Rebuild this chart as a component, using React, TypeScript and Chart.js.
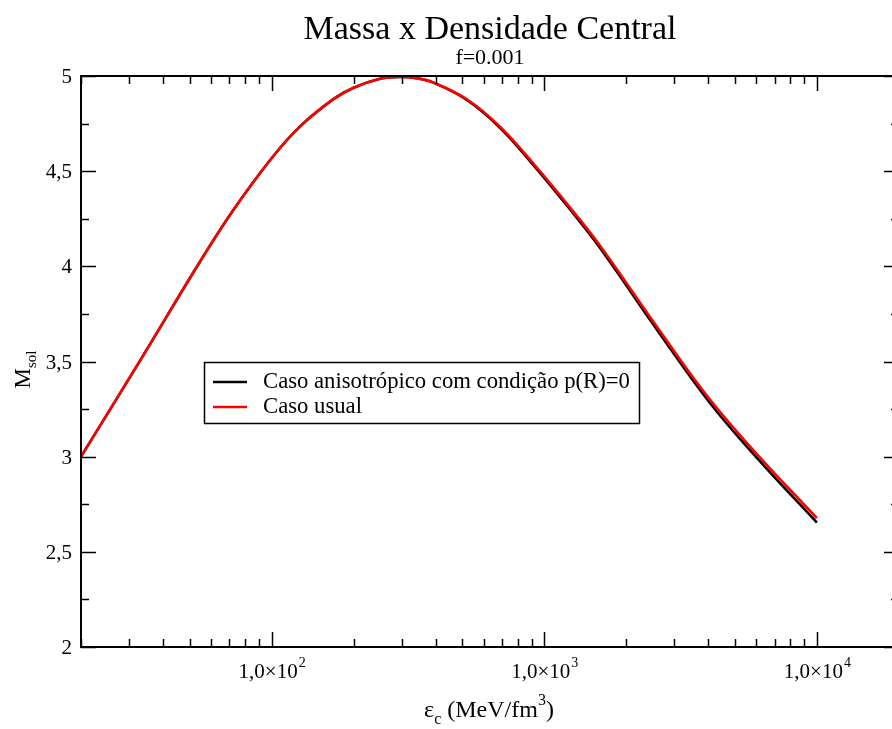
import React, { useEffect, useRef } from "react";
import { Chart, registerables } from "chart.js";

Chart.register(...registerables);

// Central energy density (MeV/fm^3)
const densities = [20, 32.6, 54.6, 72.4, 100, 127, 168, 199, 250, 296, 340, 392, 519, 688, 911, 1208, 1578, 2656, 4052, 6094, 10000];
// Mass (M_sol) — usual case (red)
const massUsual = [3.0, 3.494, 4.024, 4.296, 4.568, 4.734, 4.877, 4.937, 4.985, 4.995, 4.988, 4.966, 4.879, 4.734, 4.541, 4.331, 4.121, 3.66, 3.30, 3.006, 2.677];
// Mass (M_sol) — anisotropic case with p(R)=0 (black)
const massAniso = [3.0, 3.494, 4.024, 4.296, 4.568, 4.734, 4.877, 4.937, 4.985, 4.995, 4.988, 4.965, 4.875, 4.728, 4.533, 4.321, 4.109, 3.645, 3.282, 2.986, 2.654];

const seriesLabels = ["Caso anisotrópico com condição p(R)=0", "Caso usual"];
const seriesColors = ["#000000", "#ff0000"];

const titleText = "Massa x Densidade Central";
const subtitleText = "f=0.001";

const xMin = 20;
const xMax = 20000;
const yMin = 2;
const yMax = 5;

const xMajorTicks = [100, 1000, 10000];
const xTickLabels = ["1,0×10^2", "1,0×10^3", "1,0×10^4"];
const xMinorTicks = [20, 30, 40, 50, 60, 70, 80, 90, 200, 300, 400, 500, 600, 700, 800, 900, 2000, 3000, 4000, 5000, 6000, 7000, 8000, 9000];
const yMajorTicks = [2, 2.5, 3, 3.5, 4, 4.5, 5];
const yTickLabels = ["2", "2,5", "3", "3,5", "4", "4,5", "5"];
const yMinorTicks = [2.25, 2.75, 3.25, 3.75, 4.25, 4.75];

const FONT = '"Liberation Serif", "Times New Roman", serif';

const decorPlugin = {
  id: "decor",
  afterDraw(chart: any) {
    const { ctx, chartArea: a, scales } = chart;
    const xs = scales.x;
    const ys = scales.y;
    ctx.save();
    ctx.fillStyle = "#000";
    ctx.strokeStyle = "#000";

    // frame
    ctx.lineWidth = 2;
    ctx.strokeRect(a.left, a.top, a.right - a.left, a.bottom - a.top);

    // ticks (inward)
    ctx.lineWidth = 1.5;
    const major = 15;
    const minor = 8;
    ctx.beginPath();
    const xt = (v: number, len: number) => {
      const px = Math.round(xs.getPixelForValue(v)) + 0.5;
      ctx.moveTo(px, a.bottom);
      ctx.lineTo(px, a.bottom - len);
      ctx.moveTo(px, a.top);
      ctx.lineTo(px, a.top + len);
    };
    const yt = (v: number, len: number) => {
      const py = Math.round(ys.getPixelForValue(v)) + 0.5;
      ctx.moveTo(a.left, py);
      ctx.lineTo(a.left + len, py);
      ctx.moveTo(a.right, py);
      ctx.lineTo(a.right - len, py);
    };
    xMajorTicks.forEach((v) => xt(v, major));
    xMinorTicks.forEach((v) => xt(v, minor));
    yMajorTicks.forEach((v) => yt(v, major));
    yMinorTicks.forEach((v) => yt(v, minor));
    ctx.stroke();

    // x tick labels
    xMajorTicks.forEach((v, i) => {
      const [base, exp] = xTickLabels[i].split("^");
      ctx.font = `21px ${FONT}`;
      const wb = ctx.measureText(base).width;
      ctx.font = `14px ${FONT}`;
      const we = ctx.measureText(exp).width;
      const px = xs.getPixelForValue(v);
      const start = px - (wb + we) / 2;
      const baseY = a.bottom + 31;
      ctx.textAlign = "left";
      ctx.textBaseline = "alphabetic";
      ctx.font = `21px ${FONT}`;
      ctx.fillText(base, start, baseY);
      ctx.font = `14px ${FONT}`;
      ctx.fillText(exp, start + wb + 1, baseY - 11);
    });

    // y tick labels
    ctx.font = `21px ${FONT}`;
    ctx.textAlign = "right";
    ctx.textBaseline = "alphabetic";
    yMajorTicks.forEach((v, i) => {
      const py = ys.getPixelForValue(v);
      ctx.fillText(yTickLabels[i], a.left - 9, py + 7);
    });

    // titles
    const cx = (a.left + a.right) / 2;
    ctx.textAlign = "center";
    ctx.font = `34px ${FONT}`;
    ctx.fillText(titleText, cx, 39);
    ctx.font = `22px ${FONT}`;
    ctx.fillText(subtitleText, cx, 64);

    // x axis title: ε_c (MeV/fm^3)
    {
      const parts: [string, number, number][] = [
        ["ε", 24, 0],
        ["c", 16, 7],
        [" (MeV/fm", 24, 0],
        ["3", 16, -12],
        [")", 24, 0],
      ];
      let total = 0;
      parts.forEach(([t, s]) => {
        ctx.font = `${s}px ${FONT}`;
        total += ctx.measureText(t).width;
      });
      let x = cx - 1 - total / 2;
      const by = 717;
      ctx.textAlign = "left";
      parts.forEach(([t, s, dy]) => {
        ctx.font = `${s}px ${FONT}`;
        ctx.fillText(t, x, by + dy);
        x += ctx.measureText(t).width;
      });
    }

    // y axis title: M_sol (rotated)
    {
      ctx.save();
      const cy = (a.top + a.bottom) / 2 + 8;
      ctx.translate(30, cy);
      ctx.rotate(-Math.PI / 2);
      ctx.font = `23px ${FONT}`;
      const wm = ctx.measureText("M").width;
      ctx.font = `15px ${FONT}`;
      const ws = ctx.measureText("sol").width;
      const start = -(wm + ws) / 2;
      ctx.textAlign = "left";
      ctx.font = `23px ${FONT}`;
      ctx.fillText("M", start, 0);
      ctx.font = `15px ${FONT}`;
      ctx.fillText("sol", start + wm, 6);
      ctx.restore();
    }

    // legend
    {
      const lx = a.left + 123;
      const ly = a.top + 286;
      ctx.lineWidth = 1.5;
      ctx.strokeStyle = "#000";
      ctx.strokeRect(lx + 0.5, ly + 0.5, 435, 61);
      ctx.font = `22.7px ${FONT}`;
      ctx.textAlign = "left";
      seriesLabels.forEach((label, i) => {
        const rowY = ly + 20 + i * 25;
        ctx.strokeStyle = seriesColors[i];
        ctx.lineWidth = 2.5;
        ctx.beginPath();
        ctx.moveTo(lx + 9, rowY);
        ctx.lineTo(lx + 43, rowY);
        ctx.stroke();
        ctx.fillStyle = "#000";
        ctx.fillText(label, lx + 59, rowY + 6);
      });
    }

    ctx.restore();
  },
};

export default function App() {
  const canvasRef = useRef<HTMLCanvasElement | null>(null);

  useEffect(() => {
    document.body.style.margin = "0";
    const canvas = canvasRef.current;
    if (!canvas) return;
    const toPoints = (ys: number[]) => densities.map((x, i) => ({ x, y: ys[i] }));
    const chart = new Chart(canvas, {
      type: "line",
      data: {
        datasets: [
          {
            label: seriesLabels[0],
            data: toPoints(massAniso),
            borderColor: seriesColors[0],
            borderWidth: 2.6,
            pointRadius: 0,
            tension: 0.4,
            order: 1,
          },
          {
            label: seriesLabels[1],
            data: toPoints(massUsual),
            borderColor: seriesColors[1],
            borderWidth: 2.6,
            pointRadius: 0,
            tension: 0.4,
            order: 0,
          },
        ],
      },
      options: {
        animation: false,
        responsive: false,
        devicePixelRatio: 1,
        layout: { padding: { left: 81, top: 76, right: 11, bottom: 82 } },
        plugins: {
          legend: { display: false },
          title: { display: false },
          tooltip: { enabled: false },
        },
        scales: {
          x: { type: "logarithmic", min: xMin, max: xMax, display: false },
          y: { type: "linear", min: yMin, max: yMax, display: false },
        },
      },
      plugins: [decorPlugin],
    });
    return () => chart.destroy();
  }, []);

  return (
    <div style={{ width: 892, height: 729, overflow: "hidden", background: "#fff" }}>
      <canvas ref={canvasRef} width={910} height={729} style={{ display: "block" }} />
    </div>
  );
}
